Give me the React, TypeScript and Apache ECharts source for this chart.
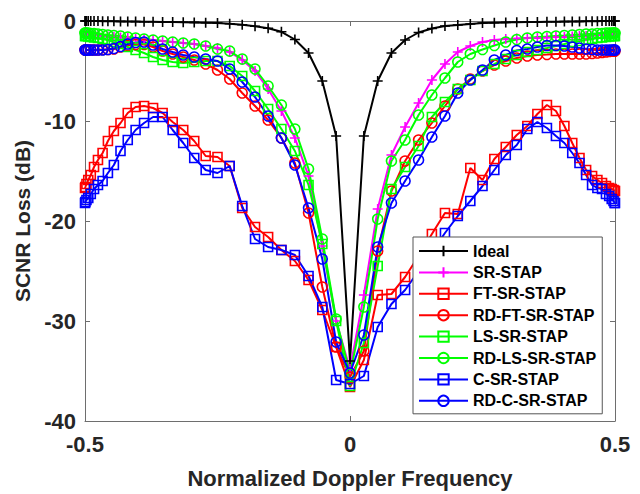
import React, { useEffect, useRef } from "react";
import * as echarts from "echarts";

const FREQ = [
  -0.5, -0.49931, -0.49726, -0.49384, -0.48907, -0.48296, -0.47553, -0.46679, -0.45677, -0.4455,
  -0.43301, -0.41934, -0.40451, -0.38857, -0.37157, -0.35355, -0.33457, -0.31466, -0.29389, -0.27232,
  -0.25, -0.227, -0.20337, -0.17918, -0.15451, -0.12941, -0.10396, -0.07822, -0.05226, -0.02617,
  0,
  0.02617, 0.05226, 0.07822, 0.10396, 0.12941, 0.15451, 0.17918, 0.20337, 0.227, 0.25,
  0.27232, 0.29389, 0.31466, 0.33457, 0.35355, 0.37157, 0.38857, 0.40451, 0.41934, 0.43301,
  0.4455, 0.45677, 0.46679, 0.47553, 0.48296, 0.48907, 0.49384, 0.49726, 0.49931, 0.5,
];

const IDEAL = [
  0, 0, 0, 0, 0, -0.01, -0.01, -0.02, -0.02, -0.03, -0.04, -0.05, -0.06, -0.07, -0.08, -0.09, -0.1, -0.12, -0.14, -0.17,
  -0.2, -0.28, -0.37, -0.53, -0.72, -1.08, -1.85, -3.2, -6.0, -11.5,
  -34.0,
  -11.5, -6.0, -3.2, -1.9, -1.15, -0.75, -0.5, -0.4, -0.3, -0.2,
  -0.17, -0.14, -0.12, -0.1, -0.09, -0.08, -0.07, -0.06, -0.05, -0.04, -0.03, -0.02, -0.02, -0.01, -0.01, 0, 0, 0, 0, 0,
];

const SR_STAP = [
  -1.3, -1.3, -1.3, -1.3, -1.35, -1.4, -1.45, -1.5, -1.55, -1.6, -1.65, -1.7, -1.8, -1.85, -1.9, -2.0, -2.1, -2.2, -2.3, -2.5,
  -2.7, -3.1, -3.9, -5.0, -6.8, -9.0, -11.7, -15.5, -22.5, -30.0,
  -34.8,
  -27.4, -18.8, -13.4, -10.6, -8.2, -5.9, -4.3, -3.1, -2.5, -2.1,
  -1.9, -1.8, -1.75, -1.7, -1.7, -1.65, -1.6, -1.6, -1.55, -1.5, -1.5, -1.45, -1.4, -1.4, -1.35, -1.35, -1.3, -1.3, -1.3, -1.3,
];

const FT_SR_STAP = [
  -16.7, -16.6, -16.3, -15.9, -15.4, -14.6, -13.9, -13.2, -12.0, -11.0, -10.2, -9.2, -8.6, -8.5, -8.7, -9.2, -10.1, -10.9, -12.0, -13.5,
  -13.6, -14.5, -18.7, -20.6, -21.6, -22.9, -24.0, -25.9, -28.9, -32.6,
  -36.6,
  -33.9, -27.4, -27.3, -25.6, -23.5, -21.3, -19.2, -19.3, -14.7, -15.9,
  -13.8, -12.6, -11.4, -10.5, -9.3, -8.4, -9.0, -10.5, -12.2, -13.7, -14.9, -15.5, -15.9, -16.2, -16.5, -16.7, -16.8, -16.9, -17.0, -17.0,
];

const RD_FT_SR_STAP = [
  -2.9, -2.9, -2.9, -2.9, -2.9, -2.9, -2.9, -2.85, -2.85, -2.8, -2.6, -2.45, -2.35, -2.35, -2.6, -3.0, -3.3, -3.6, -3.9, -4.3,
  -4.9, -5.8, -7.2, -8.5, -9.9, -11.7, -14.2, -19.2, -26.6, -32.6,
  -35.6,
  -33.0, -23.0, -17.0, -14.0, -11.9, -10.2, -8.5, -6.8, -5.8, -5.0,
  -4.4, -4.0, -3.7, -3.5, -3.4, -3.35, -3.3, -3.3, -3.3, -3.3, -3.3, -3.25, -3.2, -3.15, -3.1, -3.05, -3.0, -3.0, -3.0, -3.0,
];

const LS_SR_STAP = [
  -1.5, -1.5, -1.5, -1.55, -1.6, -1.65, -1.7, -1.8, -1.9, -2.1, -2.3, -2.6, -2.9, -3.2, -3.6, -3.9, -4.1, -4.2, -4.1, -4.0,
  -4.0, -4.5, -5.5, -7.0, -8.8, -10.8, -13.0, -16.4, -22.3, -30.0,
  -36.5,
  -32.2, -24.5, -16.8, -14.6, -12.5, -9.6, -8.1, -6.8, -5.9, -5.0,
  -4.3, -3.8, -3.4, -3.1, -2.9, -2.7, -2.5, -2.3, -2.1, -2.0, -1.9, -1.8, -1.7, -1.65, -1.6, -1.55, -1.5, -1.5, -1.5, -1.5,
];

const RD_LS_SR_STAP = [
  -1.2, -1.2, -1.2, -1.2, -1.25, -1.25, -1.3, -1.35, -1.4, -1.45, -1.5, -1.6, -1.7, -1.8, -1.9, -2.0, -2.1, -2.2, -2.3, -2.5,
  -2.8, -3.0, -3.8, -4.8, -6.5, -8.4, -10.8, -14.8, -21.8, -29.8,
  -35.3,
  -28.6, -19.8, -14.0, -11.9, -9.4, -7.4, -5.7, -4.1, -3.3, -2.85,
  -2.45, -2.1, -1.85, -1.7, -1.6, -1.55, -1.5, -1.45, -1.4, -1.35, -1.3, -1.3, -1.25, -1.25, -1.2, -1.2, -1.2, -1.2, -1.2, -1.2,
];

const C_SR_STAP = [
  -18.2, -18.1, -17.9, -17.7, -17.3, -16.8, -16.4, -16.0, -15.2, -14.4, -13.0, -11.9, -10.9, -10.2, -9.6, -9.6, -10.9, -12.2, -13.7, -14.9,
  -15.2, -14.5, -18.5, -21.8, -22.6, -22.9, -23.4, -25.5, -28.6, -35.9,
  -36.3,
  -35.5, -30.6, -28.3, -26.9, -25.0, -23.1, -21.2, -19.5, -18.0, -16.5,
  -14.9, -13.4, -12.4, -10.8, -10.1, -10.7, -11.5, -12.2, -13.2, -14.2, -15.4, -16.4, -16.7, -16.8, -17.3, -17.5, -17.8, -18.0, -18.2, -18.2,
];

const RD_C_SR_STAP = [
  -2.9, -2.9, -2.9, -2.9, -2.9, -2.9, -2.9, -2.9, -2.85, -2.75, -2.55, -2.3, -2.15, -2.1, -2.4, -2.8, -3.1, -3.4, -3.6, -3.8,
  -4.0, -4.8, -6.1, -7.6, -9.5, -11.7, -14.4, -18.7, -23.8, -32.1,
  -35.2,
  -31.4, -22.6, -18.2, -16.0, -13.9, -11.6, -9.5, -7.2, -5.9, -4.9,
  -3.9, -3.4, -2.95, -2.8, -2.6, -2.45, -2.45, -2.5, -2.6, -2.7, -2.8, -2.85, -2.9, -2.9, -2.9, -2.9, -2.9, -2.9, -2.9, -2.9,
];

const X_TICKS = [-0.5, 0, 0.5];
const Y_TICKS = [-40, -30, -20, -10, 0];

const PLUS = "path://M5,0L5,10M0,5L10,5";

const SERIES_DEF = [
  { name: "Ideal", data: IDEAL, color: "#000000", symbol: PLUS, size: 10 },
  { name: "SR-STAP", data: SR_STAP, color: "#ff00ff", symbol: PLUS, size: 10 },
  { name: "FT-SR-STAP", data: FT_SR_STAP, color: "#ff0000", symbol: "rect", size: 9 },
  { name: "RD-FT-SR-STAP", data: RD_FT_SR_STAP, color: "#ff0000", symbol: "circle", size: 10 },
  { name: "LS-SR-STAP", data: LS_SR_STAP, color: "#00ff00", symbol: "rect", size: 9 },
  { name: "RD-LS-SR-STAP", data: RD_LS_SR_STAP, color: "#00ff00", symbol: "circle", size: 10 },
  { name: "C-SR-STAP", data: C_SR_STAP, color: "#0000ff", symbol: "rect", size: 9 },
  { name: "RD-C-SR-STAP", data: RD_C_SR_STAP, color: "#0000ff", symbol: "circle", size: 10 },
];

const FONT = "'Liberation Sans', Arial, Helvetica, sans-serif";

export default function App() {
  const ref = useRef<HTMLDivElement>(null);
  useEffect(() => {
    if (!ref.current) return;
    const chart = echarts.init(ref.current, null, { renderer: "svg" });
    const axisCommon = {
      type: "value" as const,
      axisLine: { show: true, onZero: false, lineStyle: { color: "#6e6e6e", width: 1 } },
      axisTick: { show: true, inside: true, length: 5, lineStyle: { color: "#6e6e6e" } },
      splitLine: { show: false },
    };
    chart.setOption({
      animation: false,
      backgroundColor: "#ffffff",
      grid: { left: 85, right: 25, top: 21, bottom: 69, containLabel: false },
      xAxis: [
        {
          ...axisCommon,
          position: "bottom",
          min: X_TICKS[0],
          max: X_TICKS[X_TICKS.length - 1],
          interval: 0.5,
          name: "Normalized Doppler Frequency",
          nameLocation: "middle",
          nameGap: 46,
          nameTextStyle: { fontFamily: FONT, fontWeight: "bold", fontSize: 22, color: "#262626" },
          axisLabel: {
            margin: 12,
            fontFamily: FONT,
            fontWeight: "bold",
            fontSize: 22,
            color: "#262626",
            formatter: (v: number) => String(v),
          },
        },
        {
          ...axisCommon,
          position: "top",
          min: X_TICKS[0],
          max: X_TICKS[X_TICKS.length - 1],
          interval: 0.5,
          axisLabel: { show: false },
        },
      ],
      yAxis: [
        {
          ...axisCommon,
          position: "left",
          min: Y_TICKS[0],
          max: Y_TICKS[Y_TICKS.length - 1],
          interval: 10,
          name: "SCNR Loss (dB)",
          nameLocation: "middle",
          nameRotate: 90,
          nameGap: 45,
          nameTextStyle: { fontFamily: FONT, fontWeight: "bold", fontSize: 21, color: "#262626" },
          axisLabel: { margin: 9, fontFamily: FONT, fontWeight: "bold", fontSize: 22, color: "#262626" },
        },
        {
          ...axisCommon,
          position: "right",
          min: Y_TICKS[0],
          max: Y_TICKS[Y_TICKS.length - 1],
          interval: 10,
          axisLabel: { show: false },
        },
      ],
      legend: {
        orient: "vertical",
        left: 413,
        top: 237,
        padding: [6, 6, 5, 5],
        itemWidth: 49,
        itemHeight: 13,
        itemGap: 5.4,
        backgroundColor: "#ffffff",
        borderColor: "#555555",
        borderWidth: 1,
        borderRadius: 0,
        textStyle: { fontFamily: FONT, fontWeight: "bold", fontSize: 16, color: "#000000" },
        data: SERIES_DEF.map((s) => s.name),
      },
      series: SERIES_DEF.map((s) => ({
        name: s.name,
        type: "line",
        data: FREQ.map((f, i) => [f, s.data[i]]),
        symbol: s.symbol,
        symbolSize: s.size,
        showAllSymbol: true,
        clip: false,
        lineStyle: { color: s.color, width: 2 },
        itemStyle: { color: "rgba(0,0,0,0)", borderColor: s.color, borderWidth: 1.6 },
        emphasis: { disabled: true },
      })),
    });
    return () => chart.dispose();
  }, []);
  return <div ref={ref} style={{ position: "fixed", left: 0, top: 0, width: 640, height: 494 }} />;
}
